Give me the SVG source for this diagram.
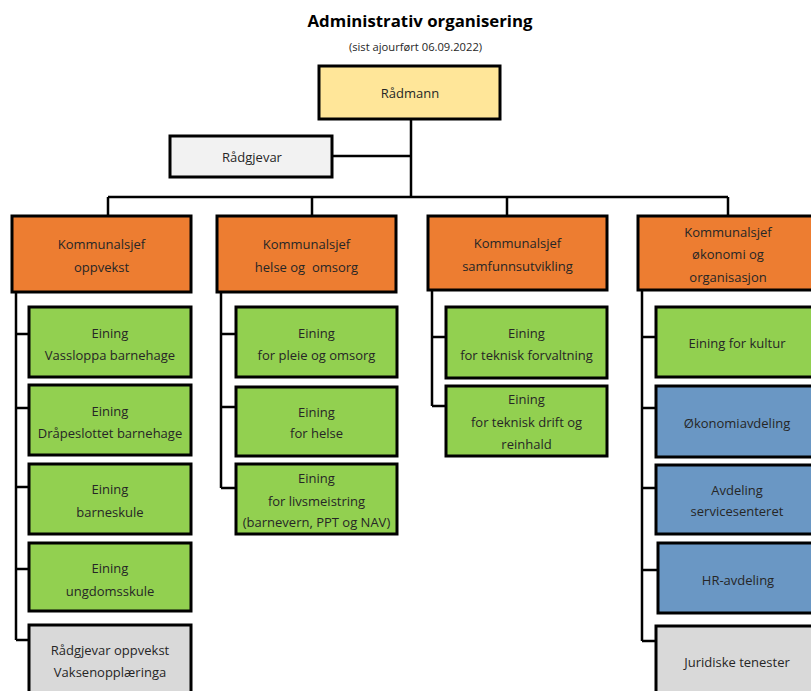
<svg xmlns="http://www.w3.org/2000/svg" width="811" height="691" viewBox="0 0 811 691">
<style>
.t{font-family:"Open Sans","Liberation Sans",sans-serif;font-size:13px;fill:#262626;text-anchor:middle}
.box{stroke:#000;stroke-width:3}
.top{fill:#FFE699}
.adv{fill:#F2F2F2}
.head{fill:#ED7D31}
.unit{fill:#92D050}
.blue{fill:#6A97C4}
.grey{fill:#D9D9D9}
.c{fill:none;stroke:#000;stroke-width:2.5}
</style>
<rect width="811" height="691" fill="#fff"/>
<text x="420" y="27" style="font-family:'Open Sans','Liberation Sans',sans-serif;font-size:16.8px;font-weight:bold;fill:#000;text-anchor:middle">Administrativ organisering</text>
<text x="415.5" y="51" style="font-family:'Open Sans','Liberation Sans',sans-serif;font-size:11.2px;fill:#262626;text-anchor:middle">(sist ajourført 06.09.2022)</text>
<g id="connectors">
<path class="c" d="M411 119V197M332 156H411M108 197H728M108 197V216M312 197V216M507 197V216M728 197V216"/>
<path class="c" d="M16 292V640M16 334H29M16 408H29M16 487H29M16 569H29M16 640H29"/>
<path class="c" d="M221 292V488M221 334H236M221 407H236M221 488H236"/>
<path class="c" d="M432 290V406M432 337H446M432 406H446"/>
<path class="c" d="M642 290V641M642 337H656M642 408H656M642 488H656M642 570H658M642 641H656"/>
</g>
<g id="radmann"><rect class="box top" x="319" y="66" width="181" height="53"/><text class="t" x="410" y="98">Rådmann</text></g>
<g id="radgjevar"><rect class="box adv" x="170" y="136" width="162" height="41"/><text class="t" x="252" y="162">Rådgjevar</text></g>
<g id="ks-oppvekst"><rect class="box head" x="12" y="216" width="179" height="76"/><text class="t" x="101.5" y="248.5">Kommunalsjef</text><text class="t" x="101.5" y="271.5">oppvekst</text></g>
<g id="ks-helse"><rect class="box head" x="217" y="216" width="179" height="76"/><text class="t" x="306.5" y="248.5">Kommunalsjef</text><text class="t" x="306.5" y="271.5">helse og&#160; omsorg</text></g>
<g id="ks-samfunn"><rect class="box head" x="428" y="216" width="179" height="74"/><text class="t" x="517.5" y="247.5">Kommunalsjef</text><text class="t" x="517.5" y="270.5">samfunnsutvikling</text></g>
<g id="ks-okonomi"><rect class="box head" x="638" y="216" width="180" height="74"/><text class="t" x="728" y="236.5">Kommunalsjef</text><text class="t" x="728" y="258.5">økonomi og</text><text class="t" x="728" y="281.5">organisasjon</text></g>
<g id="vassloppa"><rect class="box unit" x="29" y="307" width="162" height="70"/><text class="t" x="110" y="337.5">Eining</text><text class="t" x="110" y="359.5">Vassloppa barnehage</text></g>
<g id="drapeslottet"><rect class="box unit" x="29" y="385" width="162" height="70"/><text class="t" x="110" y="415.5">Eining</text><text class="t" x="110" y="437.5">Dråpeslottet barnehage</text></g>
<g id="barneskule"><rect class="box unit" x="29" y="464" width="162" height="70"/><text class="t" x="110" y="493.5">Eining</text><text class="t" x="110" y="516.5">barneskule</text></g>
<g id="ungdomsskule"><rect class="box unit" x="29" y="543" width="162" height="68"/><text class="t" x="110" y="572.5">Eining</text><text class="t" x="110" y="595.5">ungdomsskule</text></g>
<g id="radgjevar-oppvekst"><rect class="box grey" x="29" y="625" width="162" height="72"/><text class="t" x="110" y="654.5">Rådgjevar oppvekst</text><text class="t" x="110" y="676.5">Vaksenopplæringa</text></g>
<g id="pleie"><rect class="box unit" x="236" y="307" width="161" height="70"/><text class="t" x="316.5" y="337.5">Eining</text><text class="t" x="316.5" y="359.5">for pleie og omsorg</text></g>
<g id="helse"><rect class="box unit" x="236" y="387" width="161" height="69"/><text class="t" x="316.5" y="416.5">Eining</text><text class="t" x="316.5" y="437.5">for helse</text></g>
<g id="livsmeistring"><rect class="box unit" x="236" y="464" width="161" height="70"/><text class="t" x="316.5" y="482.5">Eining</text><text class="t" x="316.5" y="505.5">for livsmeistring</text><text class="t" x="316.5" y="526.5">(barnevern, PPT og NAV)</text></g>
<g id="forvaltning"><rect class="box unit" x="446" y="307" width="161" height="71"/><text class="t" x="526.5" y="337.5">Eining</text><text class="t" x="526.5" y="359.5">for teknisk forvaltning</text></g>
<g id="drift"><rect class="box unit" x="446" y="386" width="161" height="70"/><text class="t" x="526.5" y="403.5">Eining</text><text class="t" x="526.5" y="426.5">for teknisk drift og</text><text class="t" x="526.5" y="448.5">reinhald</text></g>
<g id="kultur"><rect class="box unit" x="656" y="307" width="162" height="70"/><text class="t" x="737" y="347.5">Eining for kultur</text></g>
<g id="okonomiavdeling"><rect class="box blue" x="656" y="386" width="162" height="71"/><text class="t" x="737" y="427.5">Økonomiavdeling</text></g>
<g id="servicesenteret"><rect class="box blue" x="656" y="465" width="162" height="69"/><text class="t" x="737" y="494.5">Avdeling</text><text class="t" x="737" y="515.5">servicesenteret</text></g>
<g id="hr"><rect class="box blue" x="658" y="543" width="160" height="70"/><text class="t" x="738" y="584.5">HR-avdeling</text></g>
<g id="juridiske"><rect class="box grey" x="656" y="626" width="162" height="70"/><text class="t" x="737" y="666.5">Juridiske tenester</text></g>
</svg>
